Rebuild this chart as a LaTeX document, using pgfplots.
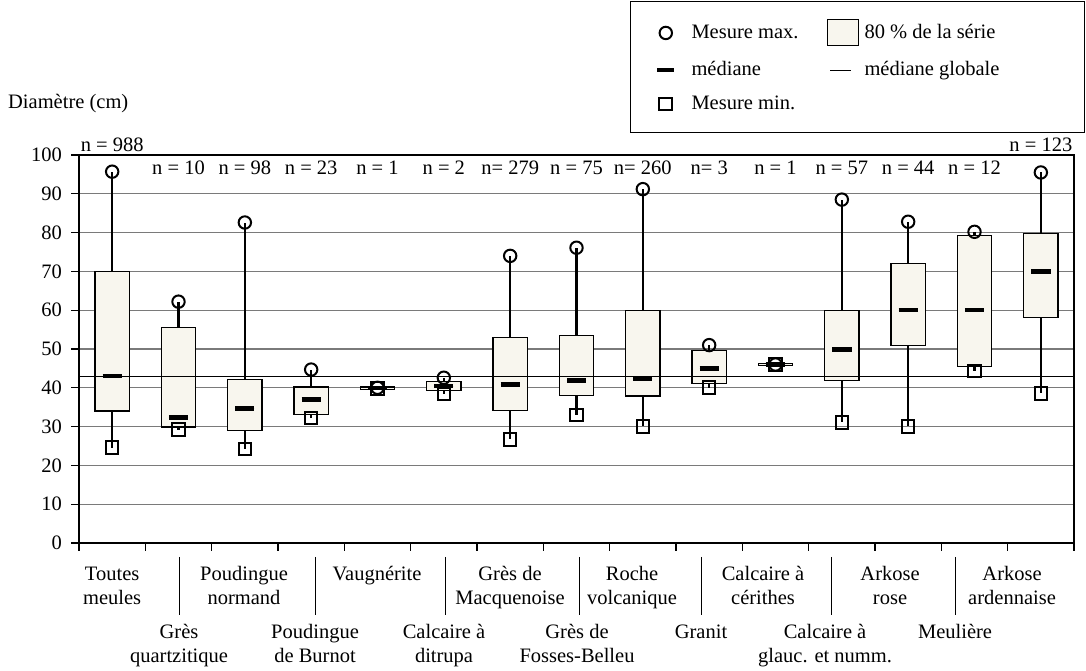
\documentclass[border=0pt]{standalone}
\usepackage{fontspec}
\setmainfont{Liberation Serif}
\usepackage{pgfplots}
\pgfplotsset{compat=1.18}
\usepgfplotslibrary{statistics}
\definecolor{boxfill}{HTML}{F8F6EE}
\definecolor{gridgray}{HTML}{7A7A7A}
\pgfplotsset{bx/.style={fill=boxfill, draw=black, line width=1.2pt}}
\begin{document}
\fontsize{20.5}{24.5}\selectfont
\begin{tikzpicture}
\useasboundingbox (0,0) rectangle (1086pt,671pt);
\begin{axis}[
  at={(79pt,128pt)}, anchor=south west,
  scale only axis, width=995pt, height=388pt,
  xmin=-0.5, xmax=14.5, ymin=0, ymax=100,
  xtick={-0.5,0.5,...,14.5}, xticklabels={},
  ytick={0,10,...,100},
  xtick pos=bottom, ytick pos=left,
  tick align=outside, major tick length=8pt,
  ymajorgrids, grid style={gridgray, line width=1.2pt},
  axis line style={line width=1.2pt},
  every tick/.style={black, line width=1.2pt},
  /pgf/number format/assume math mode=true,
  yticklabel style={xshift=-2pt},
  clip=false,
  boxplot/draw direction=y,
  boxplot/box extend=0.52,
  boxplot/whisker extend=0,
  boxplot/every whisker/.style={line width=2.2pt},
  boxplot/draw/median/.code={\draw[line width=4.5pt, black] (boxplot box cs:\pgfplotsboxplotvalue{median},0.22) -- (boxplot box cs:\pgfplotsboxplotvalue{median},0.78);},
  legend columns=2,
  legend cell align=left,
  legend style={at={(1.011,1.397)}, anchor=north east, draw=black, line width=1pt,
    row sep=13pt, inner xsep=25pt, inner ysep=18pt,
    /tikz/column 1/.style={column sep=13pt},
    /tikz/column 2/.style={column sep=26pt},
    /tikz/column 3/.style={column sep=4pt}},
]
% legend (first, so that the entries go to these images)
\addlegendimage{only marks, black, mark=o, mark size=6.2pt, line width=2pt}
\addlegendentry{Mesure max.}
\addlegendimage{legend image code/.code={\draw[fill=boxfill, line width=1pt] (0pt,-13pt) rectangle (31pt,13pt);}}
\addlegendentry{80 \% de la série\hspace*{62pt}}
\addlegendimage{legend image code/.code={\draw[line width=4.5pt] (0pt,0pt) -- (17pt,0pt);}}
\addlegendentry{médiane}
\addlegendimage{legend image code/.code={\draw[line width=1.2pt] (3pt,0pt) -- (24pt,0pt);}}
\addlegendentry{médiane globale}
\addlegendimage{only marks, black, mark=square, mark size=6.3pt, line width=2pt}
\addlegendentry{Mesure min.}
% boxes
\addplot[bx, boxplot prepared={draw position=0, lower whisker=24.6, lower quartile=34, median=43, upper quartile=70, upper whisker=95.7}] coordinates {};
\addplot[bx, boxplot prepared={draw position=1, lower whisker=29.2, lower quartile=29.9, median=32.4, upper quartile=55.6, upper whisker=62.2}] coordinates {};
\addplot[bx, boxplot prepared={draw position=2, lower whisker=24.2, lower quartile=28.9, median=34.7, upper quartile=42.2, upper whisker=82.6}] coordinates {};
\addplot[bx, boxplot prepared={draw position=3, lower whisker=32.2, lower quartile=33.2, median=37, upper quartile=40.2, upper whisker=44.7}] coordinates {};
\addplot[bx, boxplot prepared={draw position=4, lower whisker=39.8, lower quartile=39.6, median=39.9, upper quartile=40.2, upper whisker=40}] coordinates {};
\addplot[bx, boxplot prepared={draw position=5, lower whisker=38.4, lower quartile=39.4, median=40.4, upper quartile=41.6, upper whisker=42.6}] coordinates {};
\addplot[bx, boxplot prepared={draw position=6, lower whisker=26.7, lower quartile=34.2, median=40.9, upper quartile=52.9, upper whisker=74}] coordinates {};
\addplot[bx, boxplot prepared={draw position=7, lower whisker=33, lower quartile=38, median=41.9, upper quartile=53.5, upper whisker=76.1}] coordinates {};
\addplot[bx, boxplot prepared={draw position=8, lower whisker=30.1, lower quartile=37.9, median=42.3, upper quartile=60, upper whisker=91.2}] coordinates {};
\addplot[bx, boxplot prepared={draw position=9, lower whisker=40, lower quartile=41.2, median=45, upper quartile=49.7, upper whisker=51}] coordinates {};
\addplot[bx, boxplot prepared={draw position=10, lower whisker=46, lower quartile=45.7, median=46, upper quartile=46.3, upper whisker=46}] coordinates {};
\addplot[bx, boxplot prepared={draw position=11, lower whisker=31.1, lower quartile=41.9, median=49.9, upper quartile=60, upper whisker=88.5}] coordinates {};
\addplot[bx, boxplot prepared={draw position=12, lower whisker=30.1, lower quartile=50.9, median=60, upper quartile=72.1, upper whisker=82.8}] coordinates {};
\addplot[bx, boxplot prepared={draw position=13, lower whisker=44.3, lower quartile=45.4, median=60, upper quartile=79.3, upper whisker=80.2}] coordinates {};
\addplot[bx, boxplot prepared={draw position=14, lower whisker=38.6, lower quartile=58.2, median=70, upper quartile=79.7, upper whisker=95.5}] coordinates {};
% global median
\addplot[black, line width=1.3pt] coordinates {(-0.5,43) (14.5,43)};
% max
\addplot[only marks, black, mark=o, mark size=6.2pt, line width=2pt] coordinates {
(0,95.7) (1,62.2) (2,82.6) (3,44.7) (4,40) (5,42.6) (6,74) (7,76.1) (8,91.2) (9,51) (10,46) (11,88.5) (12,82.8) (13,80.2) (14,95.5)};
% min
\addplot[only marks, black, mark=square, mark size=6.3pt, line width=2pt] coordinates {
(0,24.6) (1,29.2) (2,24.2) (3,32.2) (4,39.8) (5,38.4) (6,26.7) (7,33) (8,30.1) (9,40) (10,46) (11,31.1) (12,30.1) (13,44.3) (14,38.6)};
% n labels
\node[anchor=base] at (axis cs:0,101) {n = 988};
\node[anchor=base] at (axis cs:1,95.1) {n = 10};
\node[anchor=base] at (axis cs:2,95.1) {n = 98};
\node[anchor=base] at (axis cs:3,95.1) {n = 23};
\node[anchor=base] at (axis cs:4,95.1) {n = 1};
\node[anchor=base] at (axis cs:5,95.1) {n = 2};
\node[anchor=base] at (axis cs:6,95.1) {n= 279};
\node[anchor=base] at (axis cs:7,95.1) {n = 75};
\node[anchor=base] at (axis cs:8,95.1) {n= 260};
\node[anchor=base] at (axis cs:9,95.1) {n= 3};
\node[anchor=base] at (axis cs:10,95.1) {n = 1};
\node[anchor=base] at (axis cs:11,95.1) {n = 57};
\node[anchor=base] at (axis cs:12,95.1) {n = 44};
\node[anchor=base] at (axis cs:13,95.1) {n = 12};
\node[anchor=base] at (axis cs:14,101) {n = 123};
% y label
\node[anchor=base west, inner sep=0pt] at (rel axis cs:0,1) [xshift=-71pt, yshift=46pt] {Diamètre (cm)};
% category labels
\tikzset{up/.style={anchor=north, align=center, inner sep=0pt, yshift=-20pt},
         lo/.style={anchor=north, align=center, inner sep=0pt, yshift=-78pt}}
\node[up] at (axis cs:0,0) {\strut Toutes\\meules};
\node[lo] at (axis cs:1.008,0) {\strut Grès\\quartzitique};
\node[up] at (axis cs:1.988,0) {\strut Poudingue\\normand};
\node[lo] at (axis cs:3.058,0) {\strut Poudingue\\de Burnot};
\node[up] at (axis cs:3.993,0) {\strut Vaugnérite};
\node[lo] at (axis cs:5.003,0) {\strut Calcaire à\\ditrupa};
\node[up] at (axis cs:5.998,0) {\strut Grès de\\Macquenoise};
\node[lo] at (axis cs:7.008,0) {\strut Grès de\\Fosses-Belleu};
\node[up] at (axis cs:7.837,0) {\strut Roche\\volcanique};
\node[lo] at (axis cs:8.877,0) {\strut Granit};
\node[up] at (axis cs:9.812,0) {\strut Calcaire à\\cérithes};
\node[lo] at (axis cs:10.747,0) {\strut Calcaire à\\glauc. et numm.};
\node[up] at (axis cs:11.727,0) {\strut Arkose\\rose};
\node[lo] at (axis cs:12.707,0) {\strut Meulière};
\node[up] at (axis cs:13.566,0) {\strut Arkose\\ardennaise};
% separators
\draw[line width=1pt] (axis cs:1.008,0) ++(0pt,-14pt) -- ++(0pt,-58pt);
\draw[line width=1pt] (axis cs:3.058,0) ++(0pt,-14pt) -- ++(0pt,-58pt);
\draw[line width=1pt] (axis cs:5.02,0) ++(0pt,-14pt) -- ++(0pt,-58pt);
\draw[line width=1pt] (axis cs:7.04,0) ++(0pt,-14pt) -- ++(0pt,-58pt);
\draw[line width=1pt] (axis cs:8.877,0) ++(0pt,-14pt) -- ++(0pt,-58pt);
\draw[line width=1pt] (axis cs:10.84,0) ++(0pt,-14pt) -- ++(0pt,-58pt);
\draw[line width=1pt] (axis cs:12.72,0) ++(0pt,-14pt) -- ++(0pt,-58pt);
\end{axis}
\end{tikzpicture}
\end{document}
